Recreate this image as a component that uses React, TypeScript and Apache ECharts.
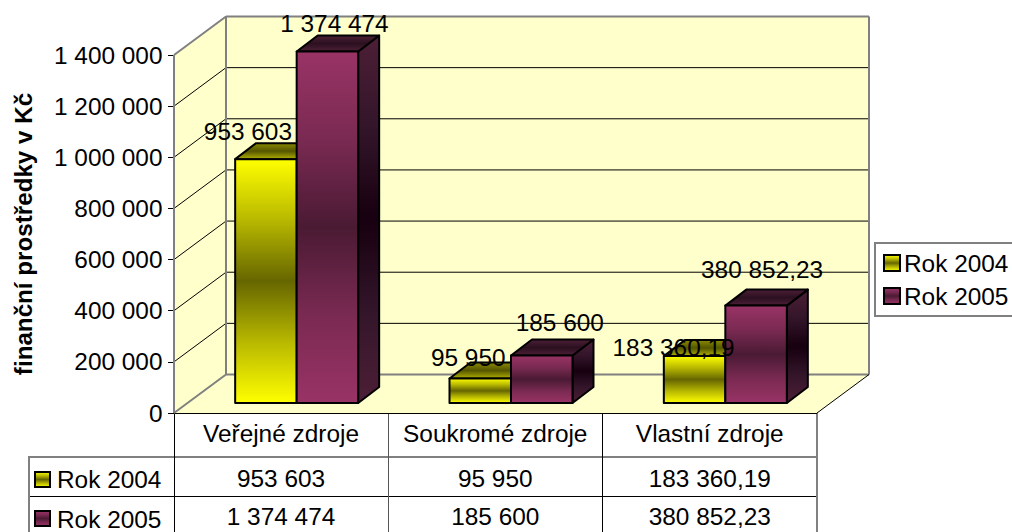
import React, { useEffect, useRef } from "react";
import * as echarts from "echarts";

const categories = ["Veřejné zdroje", "Soukromé zdroje", "Vlastní zdroje"];
const seriesNames = ["Rok 2004", "Rok 2005"];
const rok2004 = [953603, 95950, 183360.19];
const rok2005 = [1374474, 185600, 380852.23];
const yAxisTitle = "finanční prostředky v Kč";
const yTicks = [0, 200000, 400000, 600000, 800000, 1000000, 1200000, 1400000];

// label nudges relative to the top-centre of the bar's front face: [dx, dy]
const labelNudge2004 = [[-18, -28], [-12, -21], [-21, -9]];
const labelNudge2005 = [[7, -28.5], [18, -33], [6, -36]];

const FONT = "'Liberation Sans', Arial, sans-serif";
const FS = 24.4;
const WALL_DX = 52;
const WALL_DY = -38.5;
const BAR_W = 61.5;
const BAR_OX = 15.5;
const BAR_OY = -10;
const BAR_DX = 21;
const BAR_DY = -16;

const fmt = (v: number) => {
  const [i, d] = String(v).split(".");
  const s = i.replace(/\B(?=(\d{3})+$)/g, " ");
  return d ? `${s},${d}` : s;
};

const grad = (stops: string[]) =>
  new echarts.graphic.LinearGradient(0, 0, 0, 1, stops.map((color, i) => ({ offset: i / (stops.length - 1), color })));

const yellowFront = () => grad(["#ffff00", "#b8b800", "#666600", "#b8b800", "#ffff00"]);
const yellowTop = () => grad(["#8a8a00", "#555500", "#b0b000"]);
const purpleFront = () => grad(["#993366", "#7a2a52", "#4a1a33", "#7a2a52", "#993366"]);
const purpleSide = () => grad(["#4d1f36", "#33152a", "#17000f", "#33152a", "#4d1f36"]);
const purpleTop = () => grad(["#4d1f36", "#2b1020", "#4d1f36"]);

const wallRender = (_: any, api: any) => {
  const band = api.size([1, 0])[0];
  const [cx0, y0] = api.coord([0, 0]);
  const x0 = cx0 - band / 2;
  const x1 = x0 + band * categories.length;
  const yTop = api.coord([0, yTicks[yTicks.length - 1]])[1];
  const wall = "#ffffcc";
  const grey = { stroke: "#808080", lineWidth: 2 };
  const black = { stroke: "#000", lineWidth: 1 };
  const bx0 = x0 + WALL_DX;
  const bx1 = x1 + WALL_DX;
  const children: any[] = [
    { type: "polygon", shape: { points: [[x0, y0], [x0, yTop], [bx0, yTop + WALL_DY], [bx0, y0 + WALL_DY]] }, style: { fill: wall } },
    { type: "polygon", shape: { points: [[bx0, yTop + WALL_DY], [bx1, yTop + WALL_DY], [bx1, y0 + WALL_DY], [bx0, y0 + WALL_DY]] }, style: { fill: wall } },
    { type: "polygon", shape: { points: [[x0, y0], [x1, y0], [bx1, y0 + WALL_DY], [bx0, y0 + WALL_DY]] }, style: { fill: wall } },
  ];
  yTicks.slice(1, -1).forEach((t) => {
    const y = api.coord([0, t])[1];
    children.push({ type: "line", shape: { x1: x0, y1: y, x2: bx0, y2: y + WALL_DY }, style: black });
    children.push({ type: "line", shape: { x1: bx0, y1: y + WALL_DY, x2: bx1, y2: y + WALL_DY }, style: black });
  });
  const line = (a: number, b: number, c: number, d: number, style: any) =>
    children.push({ type: "line", shape: { x1: a, y1: b, x2: c, y2: d }, style });
  line(x0, y0, x0, yTop, grey);
  line(x0, yTop, bx0, yTop + WALL_DY, grey);
  line(bx0, yTop + WALL_DY, bx1, yTop + WALL_DY, grey);
  line(bx0, yTop + WALL_DY, bx0, y0 + WALL_DY, grey);
  line(bx1, yTop + WALL_DY, bx1, y0 + WALL_DY, grey);
  line(bx0, y0 + WALL_DY, bx1, y0 + WALL_DY, grey);
  line(x0, y0, bx0, y0 + WALL_DY, grey);
  line(x1, y0, bx1, y0 + WALL_DY, black);
  return { type: "group", children };
};

const barRender = (side: number, front: () => any, top: () => any, sideFill: () => any) => (_: any, api: any) => {
  const cat = api.value(0);
  const val = api.value(1);
  const [cx, yv] = api.coord([cat, val]);
  const [, y0] = api.coord([cat, 0]);
  const xl = cx + BAR_OX + (side < 0 ? -BAR_W : 0);
  const xr = xl + BAR_W;
  const yt = yv + BAR_OY;
  const yb = y0 + BAR_OY;
  const edge = { stroke: "#000", lineWidth: 2, lineJoin: "round" };
  return {
    type: "group",
    children: [
      { type: "polygon", shape: { points: [[xr, yt], [xr + BAR_DX, yt + BAR_DY], [xr + BAR_DX, yb + BAR_DY], [xr, yb]] }, style: { fill: sideFill(), ...edge } },
      { type: "polygon", shape: { points: [[xl, yt], [xl + BAR_DX, yt + BAR_DY], [xr + BAR_DX, yt + BAR_DY], [xr, yt]] }, style: { fill: top(), ...edge } },
      { type: "rect", shape: { x: xl, y: yt, width: BAR_W, height: yb - yt }, style: { fill: front(), ...edge } },
    ],
  };
};

const labelRender = (side: number, nudges: number[][]) => (_: any, api: any) => {
  const cat = api.value(0);
  const val = api.value(1);
  const [cx, yv] = api.coord([cat, val]);
  const xc = cx + BAR_OX + (side * BAR_W) / 2;
  const [dx, dy] = nudges[cat];
  return {
    type: "text",
    x: xc + dx,
    y: yv + BAR_OY + dy,
    style: { text: fmt(val), font: `${FS}px ${FONT}`, fill: "#000", align: "center", verticalAlign: "middle" },
  };
};

export default function App() {
  const ref = useRef<HTMLDivElement>(null);
  useEffect(() => {
    const chart = echarts.init(ref.current!, undefined, { renderer: "svg" });
    const toData = (arr: number[]) => arr.map((v, i) => [i, v]);
    const txt = (text: string, x: number, y: number, align = "center") => ({
      type: "text", x, y, style: { text, font: `${FS}px ${FONT}`, fill: "#000", align, verticalAlign: "middle" },
    });
    const ln = (x1: number, y1: number, x2: number, y2: number, stroke: string, lineWidth: number) => ({
      type: "line", shape: { x1, y1, x2, y2 }, style: { stroke, lineWidth },
    });
    const colXs = [174, 388, 602.5, 817];
    const rowYs = [478, 516];
    const rows = [rok2004, rok2005];
    const table: any[] = [
      ln(29, 457, 817, 457, "#808080", 2),
      ln(29, 496.5, 817, 496.5, "#000", 1),
      ln(29, 456, 29, 532, "#808080", 2),
      ln(174.5, 413, 174.5, 532, "#000", 1),
      ln(388.5, 413, 388.5, 532, "#555", 1),
      ln(602.5, 413, 602.5, 532, "#000", 1),
      ln(817, 413, 817, 532, "#808080", 2),
      ln(174, 413.5, 817, 413.5, "#000", 1),
    ];
    categories.forEach((c, i) => {
      const xc = (colXs[i] + colXs[i + 1]) / 2;
      table.push(txt(c, xc, 433.5));
      rows.forEach((r, k) => table.push(txt(fmt(r[i]), xc, rowYs[k])));
    });
    seriesNames.forEach((n, k) => {
      table.push(txt(n, 57, [479, 519][k], "left"));
      table.push({
        type: "rect",
        shape: { x: 35, y: [472, 511][k], width: 15, height: 15 },
        style: { fill: k === 0 ? yellowFront() : purpleFront(), stroke: "#000", lineWidth: 2 },
      });
    });

    chart.setOption({
      animation: false,
      grid: { left: 174, top: 55, width: 643, height: 358, outerBoundsMode: "none" },
      xAxis: {
        type: "category",
        data: categories,
        axisLine: { show: false },
        axisTick: { show: false },
        axisLabel: { show: false },
        splitLine: { show: false },
      },
      yAxis: {
        type: "value",
        min: 0,
        max: 1400000,
        interval: 200000,
        name: yAxisTitle,
        nameLocation: "middle",
        nameRotate: 90,
        nameGap: 139,
        nameTextStyle: { fontFamily: FONT, fontSize: 24.2, fontWeight: "bold", color: "#000" },
        axisLine: { show: false },
        axisTick: { show: true, length: 6, lineStyle: { color: "#000", width: 1 } },
        axisLabel: { fontFamily: FONT, fontSize: FS, color: "#000", margin: 11.5, formatter: (v: number) => fmt(v) },
        splitLine: { show: false },
      },
      legend: {
        orient: "vertical",
        left: 875,
        top: 243,
        padding: [8, 8, 8, 8],
        itemGap: 9,
        itemWidth: 16,
        itemHeight: 16,
        backgroundColor: "#fff",
        borderColor: "#808080",
        borderWidth: 2,
        textStyle: { fontFamily: FONT, fontSize: FS, color: "#000", padding: [0, 0, 0, -1] },
        data: [
          { name: seriesNames[0], icon: "rect", itemStyle: { color: yellowFront(), borderColor: "#000", borderWidth: 2 } },
          { name: seriesNames[1], icon: "rect", itemStyle: { color: purpleFront(), borderColor: "#000", borderWidth: 2 } },
        ],
      },
      graphic: { elements: table },
      series: [
        { type: "custom", name: "walls", silent: true, z: 1, data: [[0, 0]], renderItem: wallRender, encode: { x: 0, y: 1 } },
        { type: "custom", name: seriesNames[0], z: 2, data: toData(rok2004), renderItem: barRender(-1, yellowFront, yellowTop, yellowFront), encode: { x: 0, y: 1 }, itemStyle: { color: "#999900" } },
        { type: "custom", name: seriesNames[1], z: 3, data: toData(rok2005), renderItem: barRender(1, purpleFront, purpleTop, purpleSide), encode: { x: 0, y: 1 }, itemStyle: { color: "#993366" } },
        { type: "custom", name: "labels2004", silent: true, z: 4, data: toData(rok2004), renderItem: labelRender(-1, labelNudge2004), encode: { x: 0, y: 1 } },
        { type: "custom", name: "labels2005", silent: true, z: 4, data: toData(rok2005), renderItem: labelRender(1, labelNudge2005), encode: { x: 0, y: 1 } },
      ],
    });
    return () => chart.dispose();
  }, []);
  return <div ref={ref} style={{ position: "absolute", left: 0, top: 0, width: 1012, height: 532 }} />;
}
